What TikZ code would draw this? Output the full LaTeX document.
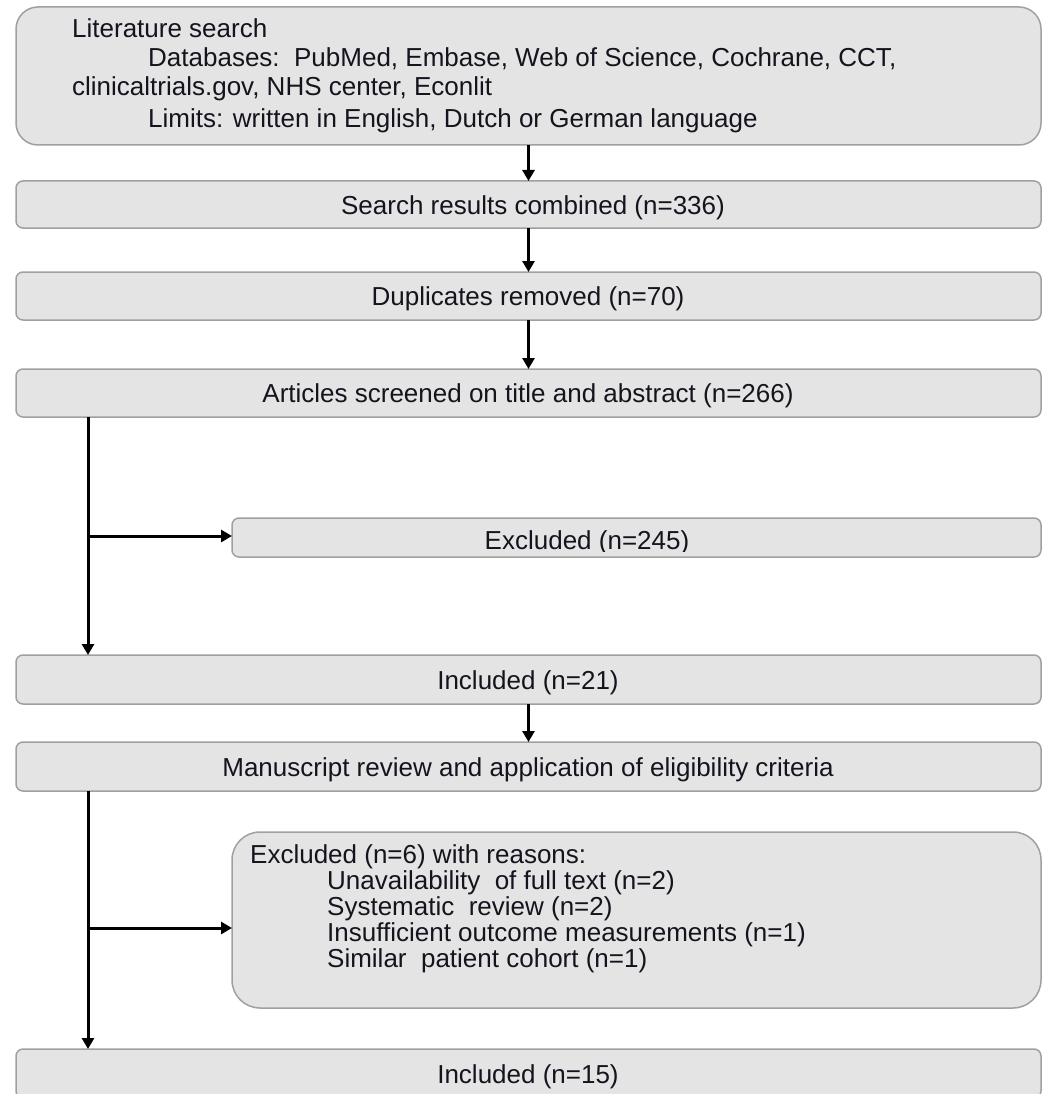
\documentclass[tikz,border=0pt]{standalone}
\usepackage{fontspec}
\setmainfont{Liberation Sans}
\usetikzlibrary{arrows.meta}
\definecolor{boxfill}{RGB}{228,228,228}
\definecolor{boxline}{RGB}{160,160,160}
\definecolor{txt}{RGB}{20,20,30}
\begin{document}
\begin{tikzpicture}[x=1pt,y=-1pt,
  box/.style={draw=boxline,fill=boxfill,line width=1.5pt,rounded corners=7pt,inner sep=0pt,outer sep=0pt,anchor=north west},
  lbl/.style={font=\fontsize{26}{29}\selectfont,text=txt,inner sep=0pt,anchor=base west},
  clbl/.style={font=\fontsize{26}{29}\selectfont,text=txt,inner sep=0pt,anchor=base},
  arr/.style={draw=black,line width=3pt,-{Triangle[length=11pt,width=12pt]}}]
\useasboundingbox (0,0) rectangle (1046,1094);
\clip (0,0) rectangle (1046,1094);

% boxes
\node[box,minimum width=1025pt,minimum height=138pt,rounded corners=22pt] (b1) at (16,7) {};
\node[box,minimum width=1025pt,minimum height=47pt] (b2) at (16,181) {};
\node[box,minimum width=1025pt,minimum height=48pt] (b3) at (16,272) {};
\node[box,minimum width=1025pt,minimum height=48pt] (b4) at (16,369) {};
\node[box,minimum width=809pt,minimum height=39pt] (e1) at (232,518) {};
\node[box,minimum width=1025pt,minimum height=49pt] (b5) at (16,655) {};
\node[box,minimum width=1025pt,minimum height=49pt] (b6) at (16,742) {};
\node[box,minimum width=809pt,minimum height=176pt,rounded corners=28pt] (e2) at (232,832) {};
\node[box,minimum width=1025pt,minimum height=49pt] (b7) at (16,1049) {};

% texts
\node[lbl] (t1a) at (72,38) {Literature search};
\node[lbl] (t1b) at (148,67) {Databases:\ \ PubMed, Embase, Web of Science, Cochrane, CCT,};
\node[lbl] (t1c) at (72,96) {clinicaltrials.gov, NHS center, Econlit};
\node[lbl] (t1d) at (148,128) {Limits: written in English, Dutch or German language};
\node[clbl] (t2) at (533,214) {Search results combined (n=336)};
\node[clbl] (t3) at (528,305.5) {Duplicates removed (n=70)};
\node[clbl] (t4) at (528,402) {Articles screened on title and abstract (n=266)};
\begin{scope}
  \clip (232,518) rectangle (1041,551);
  \node[clbl] (te1) at (587,549) {Excluded (n=245)};
\end{scope}
\node[clbl] (t5) at (528,689) {Included (n=21)};
\node[clbl] (t6) at (528,776) {Manuscript review and application of eligibility criteria};
\node[lbl] (te2a) at (250,863) {Excluded (n=6) with reasons:};
\node[lbl] (te2b) at (327,889) {Unavailability\ \ of full text (n=2)};
\node[lbl] (te2c) at (327,915) {Systematic\ \ review (n=2)};
\node[lbl] (te2d) at (327,941) {Insufficient outcome measurements (n=1)};
\node[lbl] (te2e) at (327,967) {Similar\ \ patient cohort (n=1)};
\node[clbl] (t7) at (528,1083) {Included (n=15)};

% connectors
\draw[arr] (b1.south) -- (b2.north);
\draw[arr] (b2.south) -- (b3.north);
\draw[arr] (b3.south) -- (b4.north);
\draw[arr] (b5.south) -- (b6.north);

\coordinate (tx) at (88,0);
\coordinate (j1) at (88,536);
\coordinate (j2) at (88,928);
\draw[arr] (b4.south -| tx) -- (b5.north -| tx);
\draw[arr] (j1) -- (j1 -| e1.west);
\draw[arr] (b6.south -| tx) -- (b7.north -| tx);
\draw[arr] (j2) -- (j2 -| e2.west);
\end{tikzpicture}
\end{document}
